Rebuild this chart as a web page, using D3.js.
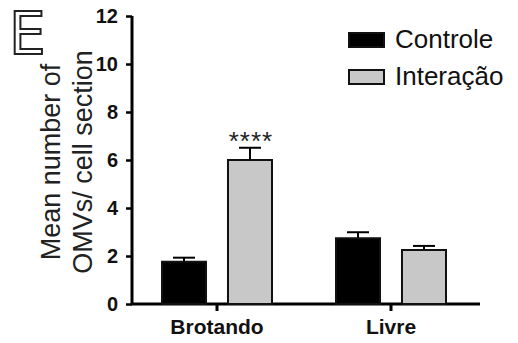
<!DOCTYPE html>
<html>
<head>
<meta charset="utf-8">
<script src="https://cdn.jsdelivr.net/npm/d3@7"></script>
<style>
  body { margin: 0; background: #fff; }
  svg { display: block; font-family: "Liberation Sans", Arial, sans-serif; }
</style>
</head>
<body>
<svg width="518" height="343"></svg>
<script>
document.addEventListener("DOMContentLoaded", function () {

  var groups = ["Brotando", "Livre"];
  var series = ["Controle", "Interação"];
  var colors = ["#000000", "#c8c8c8"];
  var means = [[1.76, 6.0], [2.74, 2.25]];
  var errors = [[0.17, 0.51], [0.25, 0.17]];
  var yTicks = [0, 2, 4, 6, 8, 10, 12];
  var stars = [["", "****"], ["", ""]];

  var svg = d3.select("svg");

  var y = d3.scaleLinear().domain([0, 12]).range([304, 16]);
  var x0 = d3.scaleBand().domain(groups).range([130, 478]);
  var x1 = d3.scaleBand().domain(series).range([-55, 55]).paddingInner(0.333);

  // axes
  var yAxis = svg.append("g")
    .attr("transform", "translate(132,0)")
    .call(d3.axisLeft(y).tickValues(yTicks).tickSize(6).tickPadding(8));
  yAxis.select(".domain").attr("stroke-width", 3).attr("d", "M0," + y(12) + "V" + y(0));
  yAxis.selectAll(".tick line").attr("stroke-width", 2.5);
  yAxis.selectAll(".tick text")
    .style("font-size", "20px").style("font-weight", "bold")
    .style("font-family", "'Liberation Sans', Arial, sans-serif").attr("fill", "#111");

  var xAxis = svg.append("g")
    .attr("transform", "translate(0," + y(0) + ")")
    .call(d3.axisBottom(x0).tickSize(7).tickPadding(8));
  xAxis.select(".domain").attr("stroke-width", 3).attr("d", "M131,0H480");
  xAxis.selectAll(".tick line").attr("stroke-width", 3);
  xAxis.selectAll(".tick text")
    .style("font-size", "21px").style("font-weight", "bold")
    .style("font-family", "'Liberation Sans', Arial, sans-serif").attr("fill", "#111");

  // bars
  var cells = [];
  groups.forEach(function (g, i) {
    series.forEach(function (s, j) {
      cells.push({ g: g, s: s, j: j, v: means[i][j], e: errors[i][j], star: stars[i][j] });
    });
  });

  var bar = svg.append("g").selectAll("g")
    .data(cells)
    .enter()
    .append("g")
    .attr("transform", function (d) {
      return "translate(" + (x0(d.g) + x0.bandwidth() / 2 + x1(d.s)) + ",0)";
    });

  var w = x1.bandwidth();

  bar.append("line")
    .attr("x1", w / 2).attr("x2", w / 2)
    .attr("y1", function (d) { return y(d.v); })
    .attr("y2", function (d) { return y(d.v + d.e); })
    .attr("stroke", "#000").attr("stroke-width", 2);
  bar.append("line")
    .attr("x1", w / 2 - 11).attr("x2", w / 2 + 11)
    .attr("y1", function (d) { return y(d.v + d.e); })
    .attr("y2", function (d) { return y(d.v + d.e); })
    .attr("stroke", "#000").attr("stroke-width", 2);

  bar.append("rect")
    .attr("x", 0)
    .attr("width", w)
    .attr("y", function (d) { return y(d.v); })
    .attr("height", function (d) { return y(0) - y(d.v); })
    .attr("fill", function (d) { return colors[d.j]; })
    .attr("stroke", "#111").attr("stroke-width", 2);

  bar.append("text")
    .attr("x", w / 2 + 1)
    .attr("y", function (d) { return y(d.v + d.e) + 2; })
    .attr("text-anchor", "middle")
    .style("font-size", "26px")
    .style("letter-spacing", "1px")
    .attr("fill", "#222")
    .text(function (d) { return d.star; });

  // legend
  var legend = svg.append("g").selectAll("g")
    .data(series)
    .enter()
    .append("g")
    .attr("transform", function (d, i) { return "translate(349," + (33 + i * 37) + ")"; });
  legend.append("rect")
    .attr("width", 35).attr("height", 14)
    .attr("fill", function (d, i) { return colors[i]; })
    .attr("stroke", "#111").attr("stroke-width", 2);
  legend.append("text")
    .attr("x", 46).attr("y", 15)
    .style("font-size", "26px").attr("fill", "#111")
    .text(function (d) { return d; });

  // y label
  var lab = svg.append("text")
    .attr("transform", "translate(0,162) rotate(-90)")
    .attr("text-anchor", "middle")
    .style("font-size", "27px").attr("fill", "#222");
  lab.append("tspan").attr("x", 0).attr("y", 60).text("Mean number of");
  lab.append("tspan").attr("x", 0).attr("y", 92).text("OMVs/ cell section");

  // panel letter
  svg.append("text")
    .attr("x", 9).attr("y", 54)
    .style("font-size", "58px").style("font-family", "'DejaVu Sans', sans-serif")
    .attr("fill", "#fff").attr("stroke", "#222").attr("stroke-width", 2)
    .text("E");

});
</script>
</body>
</html>
